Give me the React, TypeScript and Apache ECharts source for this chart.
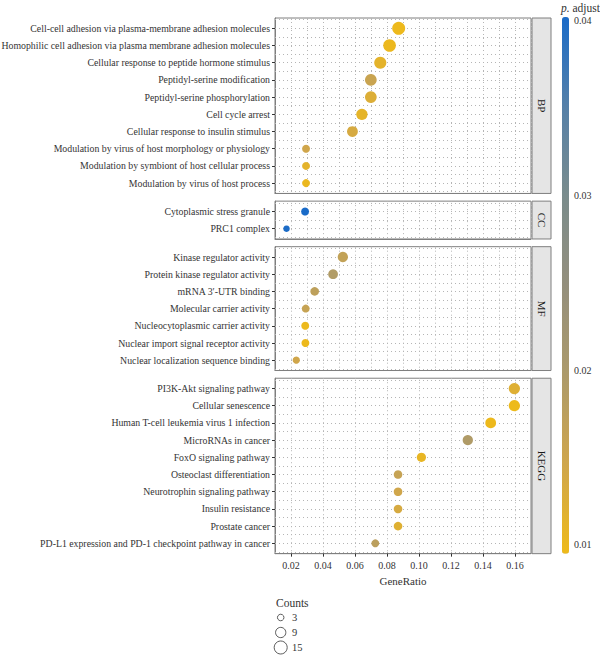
import React, { useEffect, useRef } from "react";
import * as echarts from "echarts";

// ---------- data ----------
const bpTerms = [
  "Cell-cell adhesion via plasma-membrane adhesion molecules",
  "Homophilic cell adhesion via plasma membrane adhesion molecules",
  "Cellular response to peptide hormone stimulus",
  "Peptidyl-serine modification",
  "Peptidyl-serine phosphorylation",
  "Cell cycle arrest",
  "Cellular response to insulin stimulus",
  "Modulation by virus of host morphology or physiology",
  "Modulation by symbiont of host cellular process",
  "Modulation by virus of host process",
];
const bpRatio = [0.0873, 0.0816, 0.0758, 0.0699, 0.0699, 0.0643, 0.0584, 0.0294, 0.0294, 0.0294];
const bpCount = [15, 14, 13, 12, 12, 11, 10, 5, 5, 5];
const bpPadj = [0.0097, 0.0099, 0.0112, 0.0155, 0.0125, 0.0110, 0.0135, 0.0145, 0.0112, 0.0100];

const ccTerms = ["Cytoplasmic stress granule", "PRC1 complex"];
const ccRatio = [0.0288, 0.0172];
const ccCount = [5, 3];
const ccPadj = [0.0402, 0.0400];

const mfTerms = [
  "Kinase regulator activity",
  "Protein kinase regulator activity",
  "mRNA 3\u2032-UTR binding",
  "Molecular carrier activity",
  "Nucleocytoplasmic carrier activity",
  "Nuclear import signal receptor activity",
  "Nuclear localization sequence binding",
];
const mfRatio = [0.0524, 0.0463, 0.0348, 0.0292, 0.0289, 0.029, 0.0233];
const mfCount = [9, 8, 6, 5, 5, 5, 4];
const mfPadj = [0.0165, 0.0190, 0.0172, 0.0160, 0.0098, 0.0098, 0.0145];

const keggTerms = [
  "PI3K-Akt signaling pathway",
  "Cellular senescence",
  "Human T-cell leukemia virus 1 infection",
  "MicroRNAs in cancer",
  "FoxO signaling pathway",
  "Osteoclast differentiation",
  "Neurotrophin signaling pathway",
  "Insulin resistance",
  "Prostate cancer",
  "PD-L1 expression and PD-1 checkpoint pathway in cancer",
];
const keggRatio = [0.1596, 0.1596, 0.1448, 0.1305, 0.1015, 0.0869, 0.0869, 0.0869, 0.0869, 0.0727];
const keggCount = [11, 11, 10, 9, 7, 6, 6, 6, 6, 5];
const keggPadj = [0.0122, 0.0096, 0.0097, 0.0192, 0.0105, 0.0160, 0.0145, 0.0135, 0.0120, 0.0175];

const panelNames = ["BP", "CC", "MF", "KEGG"];
const xTickValues = [0.02, 0.04, 0.06, 0.08, 0.1, 0.12, 0.14, 0.16];
const colorTickValues = [0.01, 0.02, 0.03, 0.04];
const countBreaks = [3, 9, 15];
const padjMin = 0.0095;
const padjMax = 0.0402;
const colorStops = ["#EEBA1A", "#CFA64C", "#AC9A6A", "#948F7C", "#7A8C8C", "#5580A8", "#1A6BC8"];

// ---------- layout ----------
const FONT = "Liberation Serif, Times New Roman, serif";
const TEXT = "#333333";
const GRIDC = "#b5b5b5";
const BORDER = "#7f7f7f";
const layoutTop = 18;
const unit = 17.2;
const gapPx = 7.7;
const gridLeft = 275;
const gridWidth = 256;

const panels = [
  { terms: bpTerms, ratio: bpRatio, count: bpCount, padj: bpPadj },
  { terms: ccTerms, ratio: ccRatio, count: ccCount, padj: ccPadj },
  { terms: mfTerms, ratio: mfRatio, count: mfCount, padj: mfPadj },
  { terms: keggTerms, ratio: keggRatio, count: keggCount, padj: keggPadj },
];

const sizeOf = (c: number) => Math.sqrt(10.6 + 10.56 * c);

export default function App() {
  const ref = useRef<HTMLDivElement>(null);
  useEffect(() => {
    document.body.style.margin = "0";
    if (!ref.current) return;
    const chart = echarts.init(ref.current, undefined, { renderer: "svg" });

    let yPos = layoutTop;
    const boxes = panels.map((p) => {
      const h = (p.terms.length + 0.2) * unit;
      const b = { top: yPos, height: h };
      yPos += h + gapPx;
      return b;
    });
    const last = panels.length - 1;
    const plotBottom = boxes[last].top + boxes[last].height;

    const grids: any[] = boxes.map((b) => ({
      left: gridLeft,
      top: b.top,
      width: gridWidth,
      height: b.height,
      show: true,
      borderColor: BORDER,
      borderWidth: 1,
      backgroundColor: "#ffffff",
      containLabel: false,
      outerBoundsMode: "none",
    }));
    grids.push({ left: 562, top: 17, width: 7, height: plotBottom - 17, show: false, containLabel: false, outerBoundsMode: "none" });
    grids.push({ left: 274, top: 610, width: 13.4, height: 45, show: false, containLabel: false, outerBoundsMode: "none" });

    const xAxes: any[] = panels.map((p, i) => ({
      type: "value",
      gridIndex: i,
      min: 0.01,
      max: 0.17,
      interval: 0.01,
      axisLine: { show: true, onZero: false, lineStyle: { color: BORDER } },
      splitLine: { show: true, lineStyle: { color: GRIDC, type: [1, 3], width: 1 } },
      axisTick:
        i === last
          ? { show: true, customValues: xTickValues, length: 3, lineStyle: { color: TEXT } }
          : { show: false },
      axisLabel:
        i === last
          ? {
              show: true,
              customValues: xTickValues,
              formatter: (v: number) => v.toFixed(2),
              color: TEXT,
              fontFamily: FONT,
              fontSize: 10,
              margin: 7,
            }
          : { show: false },
      name: i === last ? "GeneRatio" : "",
      nameLocation: "middle",
      nameGap: 22,
      nameTextStyle: { color: TEXT, fontFamily: FONT, fontSize: 11 },
    }));
    xAxes.push({ type: "value", gridIndex: 4, min: 0, max: 1, show: false });
    xAxes.push({ type: "value", gridIndex: 5, min: 0, max: 1, show: false });

    const yAxes: any[] = panels.map((p, i) => {
      const idx = p.terms.map((_, k) => k);
      return {
        type: "value",
        gridIndex: i,
        min: -0.6,
        max: p.terms.length - 0.4,
        inverse: true,
        splitLine: { show: false },
        axisLine: { show: true, onZero: false, lineStyle: { color: BORDER } },
        axisTick: { show: true, customValues: idx, length: 3, lineStyle: { color: TEXT } },
        axisLabel: {
          show: true,
          customValues: idx,
          formatter: (v: number) => p.terms[Math.round(v)] ?? "",
          color: TEXT,
          fontFamily: FONT,
          fontSize: 9.8,
          margin: 5,
        },
      };
    });
    yAxes.push({
      type: "value",
      gridIndex: 4,
      min: padjMin,
      max: padjMax,
      position: "right",
      splitLine: { show: false },
      axisLine: { show: false },
      axisTick: { show: true, customValues: colorTickValues, length: 3, lineStyle: { color: "#555" } },
      axisLabel: {
        show: true,
        customValues: colorTickValues,
        formatter: (v: number) => v.toFixed(2),
        color: TEXT,
        fontFamily: FONT,
        fontSize: 10,
        margin: 5,
      },
    });
    yAxes.push({
      type: "value",
      gridIndex: 5,
      min: -0.5,
      max: 2.5,
      inverse: true,
      position: "right",
      splitLine: { show: false },
      axisLine: { show: false },
      axisTick: { show: false },
      axisLabel: {
        show: true,
        customValues: [0, 1, 2],
        formatter: (v: number) => String(countBreaks[Math.round(v)] ?? ""),
        color: TEXT,
        fontFamily: FONT,
        fontSize: 10.5,
        margin: 4.6,
      },
    });

    const series: any[] = panels.map((p, i) => {
      const n = p.terms.length;
      const hl: number[] = [];
      for (let k = 0; k <= 2 * n; k++) hl.push(-0.5 + k * 0.5);
      return {
        type: "scatter",
        xAxisIndex: i,
        yAxisIndex: i,
        z: 3,
        silent: true,
        data: p.terms.map((_, k) => [p.ratio[k], k, p.count[k], p.padj[k]]),
        symbolSize: (v: number[]) => sizeOf(v[2]),
        itemStyle: { opacity: 1 },
        markLine: {
          silent: true,
          symbol: "none",
          z: 1,
          label: { show: false },
          lineStyle: { color: GRIDC, type: [1, 3], width: 1 },
          data: hl.map((v) => ({ yAxis: v })),
        },
      };
    });
    series.push({
      type: "scatter",
      xAxisIndex: 5,
      yAxisIndex: 5,
      silent: true,
      data: countBreaks.map((c, k) => [0.5, k, c]),
      symbolSize: (v: number[]) => sizeOf(v[2]),
      itemStyle: { color: "#ffffff", borderColor: "#333", borderWidth: 1 },
    });

    const graphics: any[] = [];
    boxes.forEach((b, i) => {
      graphics.push({
        type: "rect",
        shape: { x: 532, y: b.top, width: 19, height: b.height },
        style: { fill: "#e5e5e5", stroke: BORDER, lineWidth: 1 },
        silent: true,
      });
      graphics.push({
        type: "text",
        x: 541.5,
        y: b.top + b.height / 2,
        rotation: -Math.PI / 2,
        style: {
          text: panelNames[i],
          align: "center",
          verticalAlign: "middle",
          fill: "#1a1a1a",
          font: `11px ${FONT}`,
        },
        silent: true,
      });
    });
    graphics.push({
      type: "text",
      x: 561,
      y: 8,
      style: {
        text: "{i|p.} adjust",
        verticalAlign: "middle",
        fill: TEXT,
        font: `11.5px ${FONT}`,
        rich: { i: { fontStyle: "italic", fontFamily: FONT, fontSize: 11.5, fill: TEXT } },
      },
      silent: true,
    });
    graphics.push({
      type: "text",
      x: 276,
      y: 602.5,
      style: { text: "Counts", verticalAlign: "middle", fill: TEXT, font: `11.5px ${FONT}` },
      silent: true,
    });

    chart.setOption({
      animation: false,
      backgroundColor: "#ffffff",
      grid: grids,
      xAxis: xAxes,
      yAxis: yAxes,
      visualMap: {
        type: "continuous",
        min: padjMin,
        max: padjMax,
        dimension: 3,
        seriesIndex: [0, 1, 2, 3],
        inRange: { color: colorStops },
        orient: "vertical",
        left: 562,
        top: 17,
        itemWidth: 7,
        itemHeight: plotBottom - 17,
        padding: 0,
        calculable: false,
        hoverLink: false,
        show: true,
      },
      series,
      graphic: graphics,
    });
    return () => chart.dispose();
  }, []);
  return <div ref={ref} style={{ width: 600, height: 656 }} />;
}
